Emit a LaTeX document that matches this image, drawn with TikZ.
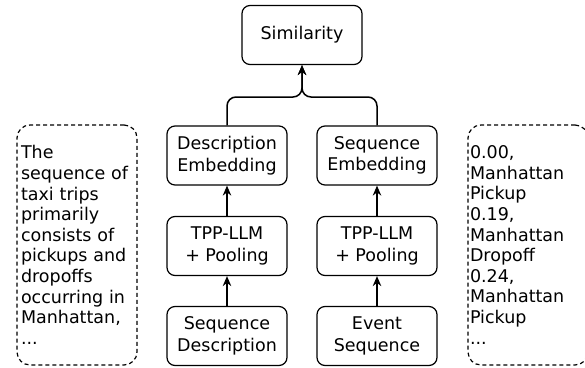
\documentclass[tikz,border=0pt]{standalone}
\usepackage{fontspec}
\setmainfont{DejaVu Sans}
\usetikzlibrary{arrows.meta}

\tikzset{
  block/.style={draw, line width=1.2pt, rounded corners=8pt, minimum width=120pt, minimum height=59pt, align=center, font=\fontsize{17.5}{21.5}\selectfont},
  notebox/.style={draw, dash pattern=on 4pt off 3pt, line width=1.2pt, rounded corners=13pt, minimum width=120pt, minimum height=240pt, align=left, font=\fontsize{17.5}{20.6}\selectfont},
  flow/.style={line width=1.5pt, -{Stealth[length=10pt,width=8.5pt]}}
}

\begin{document}
\begin{tikzpicture}[x=1pt,y=-1pt]
    \useasboundingbox (0,0) rectangle (585,367);

    % Top
    \node[block] (sim) at (302,35) {Similarity};

    % Embeddings
    \node[block] (demb) at (227,155.5) {Description\\Embedding};
    \node[block] (semb) at (377,155.5) {Sequence\\Embedding};

    % Encoders
    \node[block] (tppl) at (227,246) {TPP-LLM\\+ Pooling};
    \node[block] (tppr) at (377,246) {TPP-LLM\\+ Pooling};

    % Inputs
    \node[block] (sdesc) at (227,336) {Sequence\\Description};
    \node[block] (evseq) at (377,336) {Event\\Sequence};

    % Examples
    \node[notebox, text width=112pt, inner xsep=4pt] (descex) at (77,245)
        {The\\sequence of\\taxi trips\\primarily\\consists of\\pickups and\\dropoffs\\occurring in\\Manhattan,\\...};
    \node[notebox, text width=116pt, inner xsep=2pt] (seqex) at (528,245)
        {0.00,\\Manhattan\\Pickup\\0.19,\\Manhattan\\Dropoff\\0.24,\\Manhattan\\Pickup\\...};

    % Arrows
    \draw[flow] (sdesc) -- (tppl);
    \draw[flow] (evseq) -- (tppr);
    \draw[flow] (tppl) -- (demb);
    \draw[flow] (tppr) -- (semb);

    \coordinate (join) at (302,97);
    \draw[flow, rounded corners=9pt] (demb.north) |- (join) -- (sim.south);
    \draw[flow, rounded corners=9pt] (semb.north) |- (join) -- (sim.south);

\end{tikzpicture}
\end{document}
